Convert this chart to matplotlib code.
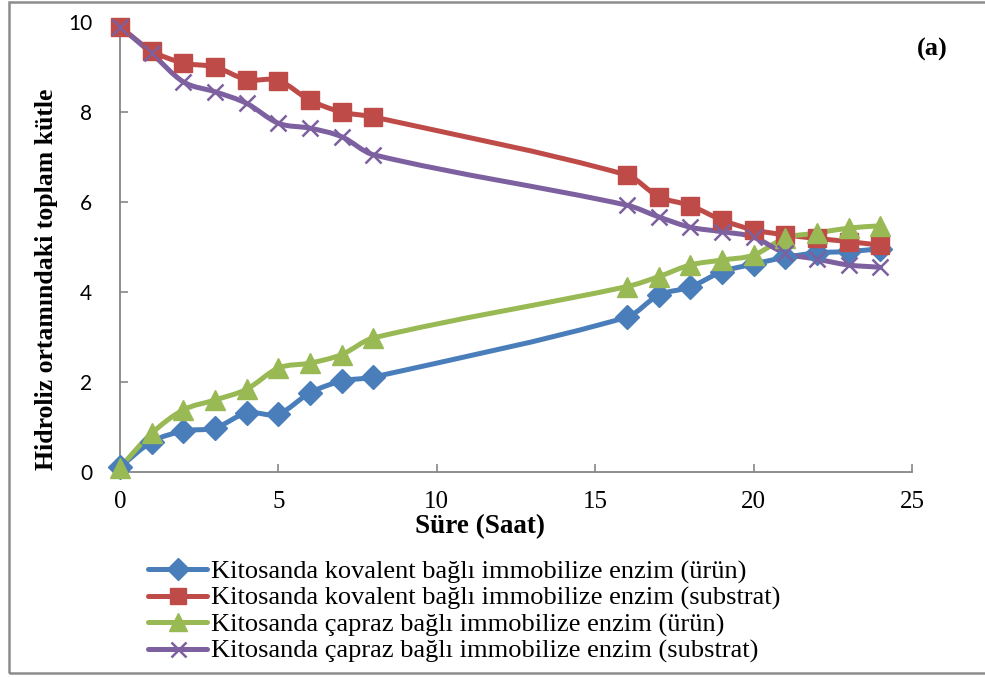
import matplotlib
matplotlib.use("Agg")
import matplotlib.pyplot as plt
from matplotlib.path import Path
from matplotlib.patches import PathPatch, Rectangle
from matplotlib.lines import Line2D
import numpy as np

# Sampling times (hours)
hours = [0, 1, 2, 3, 4, 5, 6, 7, 8, 16, 17, 18, 19, 20, 21, 22, 23, 24]

# Total mass in the hydrolysis medium
kov_urun = [0.11, 0.67, 0.91, 0.98, 1.31, 1.29, 1.76, 2.02, 2.11,
            3.44, 3.93, 4.11, 4.45, 4.62, 4.77, 4.87, 4.90, 4.96]
kov_substrat = [9.89, 9.36, 9.09, 9.00, 8.72, 8.70, 8.26, 8.00, 7.89,
                6.60, 6.12, 5.92, 5.60, 5.38, 5.27, 5.19, 5.12, 5.04]
capraz_urun = [0.10, 0.86, 1.38, 1.60, 1.84, 2.31, 2.42, 2.61, 2.98,
               4.12, 4.34, 4.60, 4.71, 4.82, 5.20, 5.31, 5.42, 5.47]
capraz_substrat = [9.90, 9.30, 8.67, 8.45, 8.19, 7.75, 7.64, 7.45, 7.05,
                   5.93, 5.67, 5.44, 5.34, 5.22, 4.86, 4.73, 4.60, 4.55]

labels = [
    "Kitosanda kovalent bağlı immobilize enzim (ürün)",
    "Kitosanda kovalent bağlı immobilize enzim (substrat)",
    "Kitosanda çapraz bağlı immobilize enzim (ürün)",
    "Kitosanda çapraz bağlı immobilize enzim (substrat)",
]
x_ticks = [0, 5, 10, 15, 20, 25]
y_ticks = [0, 2, 4, 6, 8, 10]

colors = ["#4A7EBB", "#BE4B48", "#98B954", "#7D60A0"]
markers = ["D", "s", "^", "x"]
msizes = [12, 13, 14, 12]

SERIF = "Liberation Serif"
SANS = "Lato"


def smooth_path(xs, ys):
    """Piecewise cubic Bezier through the points, tangents from neighbours."""
    x = np.asarray(xs, float)
    y = np.asarray(ys, float)
    n = len(x)
    m = np.empty(n)
    m[0] = (y[1] - y[0]) / (x[1] - x[0])
    m[-1] = (y[-1] - y[-2]) / (x[-1] - x[-2])
    m[1:-1] = (y[2:] - y[:-2]) / (x[2:] - x[:-2])
    verts = [(x[0], y[0])]
    codes = [Path.MOVETO]
    for i in range(n - 1):
        h = x[i + 1] - x[i]
        verts += [(x[i] + h / 3, y[i] + m[i] * h / 3),
                  (x[i + 1] - h / 3, y[i + 1] - m[i + 1] * h / 3),
                  (x[i + 1], y[i + 1])]
        codes += [Path.CURVE4] * 3
    return Path(verts, codes)


fig = plt.figure(figsize=(9.85, 6.77), dpi=100)
ax = fig.add_axes([120 / 985, 1 - 472 / 677, (912 - 120) / 985, (472 - 22) / 677])

series = [kov_urun, kov_substrat, capraz_urun, capraz_substrat]
handles = []
for vals, c, m, ms in zip(series, colors, markers, msizes):
    patch = PathPatch(smooth_path(hours, vals), facecolor="none", edgecolor=c,
                      lw=3.6, capstyle="round", joinstyle="round", clip_on=False, zorder=2)
    ax.add_patch(patch)
    if m == "x":
        ax.plot(hours, vals, ls="none", marker=m, ms=ms, mec=c, mew=1.8,
                clip_on=False, zorder=3)
    else:
        ax.plot(hours, vals, ls="none", marker=m, ms=ms, mfc=c, mec=c,
                clip_on=False, zorder=3)
    handles.append(Line2D([], [], color=c, lw=3.6, marker=m, ms=ms * 0.9,
                          mfc=c, mec=c, mew=1.8 if m == "x" else 1.0,
                          solid_capstyle="round"))

ax.set_xlim(0, 25)
ax.set_ylim(0, 10)
ax.set_xticks(x_ticks)
ax.set_yticks(y_ticks)
ax.set_xticklabels([str(t) for t in x_ticks], fontfamily=SERIF, fontsize=18)
ax.set_yticklabels([str(t) for t in y_ticks], fontfamily=SANS, fontsize=15)
for s in ["top", "right"]:
    ax.spines[s].set_visible(False)
for s in ["left", "bottom"]:
    ax.spines[s].set_color("#868686")
    ax.spines[s].set_linewidth(1.3)
ax.tick_params(axis="both", direction="in", length=6, width=1.2, color="#868686",
               labelcolor="black")
ax.tick_params(axis="x", pad=14)
ax.tick_params(axis="y", pad=20)

fig.text(47 / 985, 1 - 279 / 677, "Hidroliz ortamındaki toplam kütle",
         rotation=90, ha="center", va="center", fontfamily=SERIF,
         fontweight="bold", fontsize=18.5)
fig.text(480 / 985, 1 - 527 / 677, "Süre (Saat)", ha="center", va="center",
         fontfamily=SERIF, fontweight="bold", fontsize=19.5)
fig.text(932 / 985, 1 - 49 / 677, "(a)", ha="center", va="center",
         fontfamily=SERIF, fontweight="bold", fontsize=19)

fig.legend(handles, labels, loc="upper left",
           bbox_to_anchor=(148 / 985, 1 - 560 / 677),
           frameon=False, prop={"family": SERIF, "size": 19},
           handlelength=2.25, handletextpad=0.15, labelspacing=0.1,
           borderpad=0, borderaxespad=0, numpoints=1)

# outer chart frame
fig.patches.append(Rectangle((8.5 / 985, 1 - 673 / 677), 1.0, (673 - 1.5) / 677,
                             transform=fig.transFigure, fill=False,
                             edgecolor="#8C8C8C", lw=1.8, zorder=0))

fig.savefig("out.png", dpi=100)
